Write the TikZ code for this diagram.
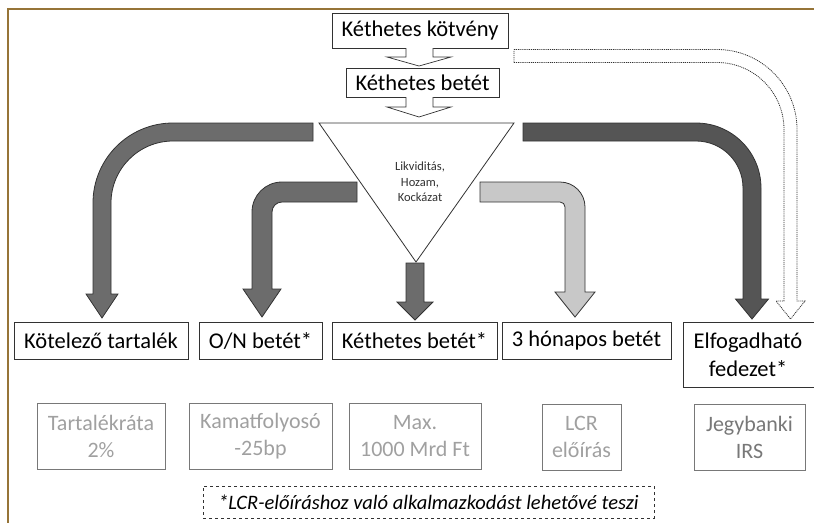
\documentclass[tikz,border=0pt]{standalone}
\usepackage{fontspec}
\setmainfont{Carlito}
\definecolor{framec}{RGB}{150,116,56}
\definecolor{edgec}{RGB}{50,50,50}
\definecolor{midgray}{RGB}{108,108,108}
\definecolor{darkgray2}{RGB}{85,85,85}
\definecolor{lightfill}{RGB}{200,200,200}
\definecolor{greytext}{RGB}{160,160,160}
\definecolor{greyedge}{RGB}{120,120,120}
\tikzset{
  box/.style={draw=edgec, line width=0.9pt, fill=white, inner sep=0pt, font=\fontsize{22.5}{26}\selectfont, align=center},
  infobox/.style={draw=greyedge, line width=0.9pt, inner sep=0pt, font=\fontsize{22}{27}\selectfont, text=greytext, align=center},
  hollowarrow/.style={draw=edgec, line width=0.7pt, fill=white},
  blockarrow/.style={draw=edgec, line width=0.8pt, fill=midgray},
  darkarrow/.style={draw=edgec, line width=0.8pt, fill=darkgray2},
  lightarrow/.style={draw=edgec, line width=0.8pt, fill=lightfill},
  dotarrow/.style={draw=edgec, line width=0.8pt, dash pattern=on 1pt off 0.9pt, fill=white},
}
\begin{document}
\begin{tikzpicture}[x=1pt,y=-1pt]
\useasboundingbox (0,0) rectangle (814,523);
% frame
\draw[framec, line width=2pt] (814,8.5) -- (8,8.5) -- (8,523);

% top boxes
\node[box, minimum width=176pt, minimum height=35pt] (kotveny) at (420,30.5) {Kéthetes kötvény};
\node[box, minimum width=153pt, minimum height=29pt] (betet) at (422.5,82.5) {Kéthetes betét};

% hollow arrows
\draw[hollowarrow] (406,48) -- (406,57) -- (387,57) -- (419,66) -- (451,57) -- (433,57) -- (433,48);
\draw[hollowarrow] (406,97) -- (406,107) -- (387,107) -- (419,117) -- (451,107) -- (433,107) -- (433,97);

% triangle
\coordinate (tl) at (319,123);
\coordinate (tr) at (514,123);
\coordinate (tb) at (416,262);
\draw[edgec, line width=0.8pt, fill=white] (tl) -- (tr) -- (tb) -- cycle;
\node[font=\fontsize{12.5}{15.5}\selectfont, text=edgec, align=center] (tri) at (420,182) {Likviditás,\\Hozam,\\Kockázat};

% dotted hollow arrow
\draw[dotarrow] (514,49.5) -- (717,49.5) .. controls (761.2,49.5) and (797,85.3) .. (797,129.5) -- (797,301) -- (805,301) -- (790.5,319) -- (776,301) -- (784,301) -- (784,129.5) .. controls (784,92.5) and (754,62.5) .. (717,62.5) -- (514,62.5) -- cycle;

% left big arrow
\draw[blockarrow] (313,123) -- (173,123) .. controls (128.8,123) and (93,158.8) .. (93,203) -- (93,294) -- (86,294) -- (102,318) -- (118,294) -- (111,294) -- (111,203) .. controls (111,168.8) and (138.8,141) .. (173,141) -- (313,141) -- cycle;

% O/N arrow
\draw[blockarrow] (357,182) -- (282,182) .. controls (265.4,182) and (252,195.4) .. (252,212) -- (252,289) -- (243,289) -- (262,317) -- (281,289) -- (272,289) -- (272,212) .. controls (272,206.5) and (276.5,202) .. (282,202) -- (357,202) -- cycle;

% center arrow
\draw[blockarrow] (406,263) -- (424,263) -- (424,302) -- (433,302) -- (415,320) -- (397,302) -- (406,302) -- cycle;

% light arrow
\draw[lightarrow] (480,182) -- (560,182) .. controls (573.8,182) and (585,193.2) .. (585,207) -- (585,292) -- (595,292) -- (575,317) -- (555,292) -- (565,292) -- (565,207) .. controls (565,204.2) and (562.8,202) .. (560,202) -- (480,202) -- cycle;

% dark right arrow
\draw[darkarrow] (523,123) -- (696,123) .. controls (731.9,123) and (761,152.1) .. (761,188) -- (761,299) -- (768.5,299) -- (752,319) -- (735.5,299) -- (743,299) -- (743,188) .. controls (743,162.0) and (722.0,141) .. (696,141) -- (523,141) -- cycle;

% bottom row boxes
\node[box, minimum width=174pt, minimum height=37pt] (kotelezo) at (101,340.5) {Kötelező tartalék};
\node[box, minimum width=123pt, minimum height=37pt] (on) at (260.5,340.5) {O/N betét*};
\node[box, minimum width=165pt, minimum height=37pt] (ketbetet) at (414.5,340.5) {Kéthetes betét*};
\node[box, minimum width=169pt, minimum height=37pt] (honapos) at (586.5,340.5) {3 hónapos betét};
\draw[edgec, line width=0.9pt] (820,322) -- (683,322) -- (683,387) -- (820,387);
\node[font=\fontsize{22.5}{28}\selectfont, align=center, inner sep=0pt] (fedezet) at (748,355) {Elfogadható\\fedezet*};

% info boxes
\node[infobox, minimum width=128pt, minimum height=66pt] (tart) at (101,436) {Tartalékráta\\2\%};
\node[infobox, minimum width=143pt, minimum height=66pt] (kamat) at (260.5,436) {Kamatfolyosó\\-25bp};
\node[infobox, minimum width=132pt, minimum height=66pt] (max) at (415,436) {Max.\\1000 Mrd Ft};
\node[infobox, minimum width=79pt, minimum height=66pt] (lcr) at (581.5,437) {LCR\\előírás};
\node[infobox, minimum width=111pt, minimum height=66pt, text=greyedge] (jegy) at (749.5,437) {Jegybanki\\IRS};

% note
\node[draw=edgec, dashed, line width=0.8pt, minimum width=451pt, minimum height=32pt, inner sep=0pt, font=\fontsize{20.5}{22}\selectfont\itshape] (note) at (428.5,502) {*LCR-előíráshoz való alkalmazkodást lehetővé teszi};
\end{tikzpicture}
\end{document}
